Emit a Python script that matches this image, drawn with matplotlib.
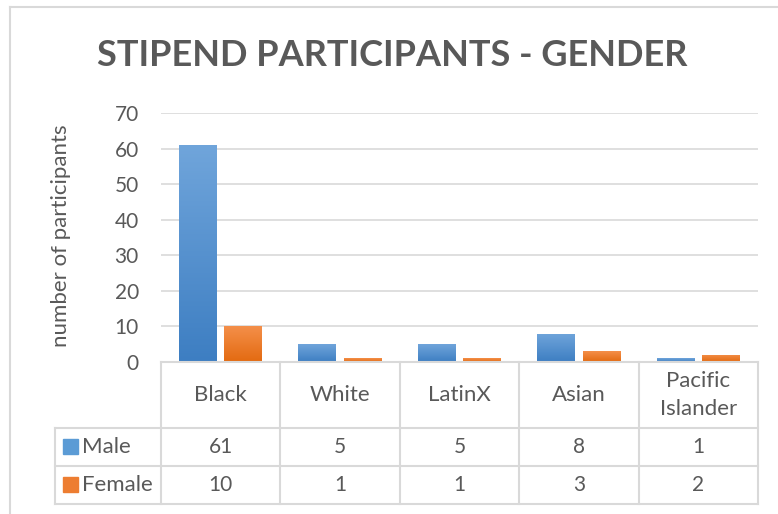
import matplotlib
matplotlib.use("Agg")
import matplotlib.pyplot as plt
import numpy as np
from matplotlib.lines import Line2D
from matplotlib.patches import Rectangle
from matplotlib.colors import LinearSegmentedColormap

categories = ["Black", "White", "LatinX", "Asian", "Pacific\nIslander"]
series_names = ["Male", "Female"]
male = [61, 5, 5, 8, 1]
female = [10, 1, 1, 3, 2]
yticks = [0, 10, 20, 30, 40, 50, 60, 70]
title = "STIPEND PARTICIPANTS - GENDER"
ylabel = "number of participants"

W, H = 778, 514
FONT = "Lato"
TXT = "#595959"
GRID = "#D9D9D9"
FS_TXT = 16
FS_NUM = 15
fig = plt.figure(figsize=(W / 100, H / 100), dpi=100)

def fx(p):
    return p / W

def fy(p):
    return 1 - p / H

L, R, T, B = 161, 758, 113, 362
ax = fig.add_axes([fx(L), fy(B), fx(R) - fx(L), fy(T) - fy(B)])
ax.set_xlim(-0.5, len(categories) - 0.5)
ax.set_ylim(0, 70)
ax.set_yticks(yticks)
ax.set_xticks([])
for s in ax.spines.values():
    s.set_visible(False)
ax.tick_params(axis="y", length=0, pad=16, labelsize=FS_NUM, labelcolor=TXT)
for lab in ax.get_yticklabels():
    lab.set_fontfamily(FONT)
ax.yaxis.grid(True, color=GRID, linewidth=1.2)
ax.set_axisbelow(True)

x = np.arange(len(categories))
bw = 0.318
off = 0.19
grad_m = LinearSegmentedColormap.from_list("m", ["#3D7EC2", "#70A5DB"])
grad_f = LinearSegmentedColormap.from_list("f", ["#E36A10", "#F48F4A"])
g = np.linspace(0, 1, 256).reshape(-1, 1)
for vals, dx, cmap, col in [(male, -off, grad_m, "#5B9BD5"), (female, off, grad_f, "#ED7D31")]:
    bars = ax.bar(x + dx, vals, bw, color=col, zorder=2)
    for b in bars:
        x0, y0, w, h = b.get_x(), b.get_y(), b.get_width(), b.get_height()
        b.set_facecolor("none")
        b.set_edgecolor("none")
        im = ax.imshow(g, cmap=cmap, origin="lower", aspect="auto",
                       extent=[x0, x0 + w, y0, y0 + h], zorder=3)
        im.set_clip_path(b)
ax.set_xlim(-0.5, len(categories) - 0.5)
ax.set_ylim(0, 70)

fig.text(fx(392), fy(55), title, ha="center", va="center", fontsize=26,
         fontweight="bold", color=TXT, fontfamily=FONT)
fig.text(fx(61), fy(236), ylabel, ha="center", va="center", rotation=90,
         fontsize=FS_TXT, color=TXT, fontfamily=FONT)

# outer chart border
fig.add_artist(Line2D([fx(10), fx(10)], [fy(7), fy(H + 5)], color=GRID, lw=1.5))
fig.add_artist(Line2D([fx(10), fx(W + 5)], [fy(7), fy(7)], color=GRID, lw=1.5))

# data table
rows_y = [B, 428, 466, 504]
bounds = [L + (R - L) * i / len(categories) for i in range(len(categories) + 1)]
lc = "#D9D9D9"
lw = 1.5
for xb in bounds:
    fig.add_artist(Line2D([fx(xb), fx(xb)], [fy(B), fy(504)], color=lc, lw=lw))
fig.add_artist(Line2D([fx(55), fx(55)], [fy(428), fy(504)], color=lc, lw=lw))
fig.add_artist(Line2D([fx(L), fx(R)], [fy(B), fy(B)], color=lc, lw=lw))
for yb in rows_y[1:]:
    fig.add_artist(Line2D([fx(55), fx(R)], [fy(yb), fy(yb)], color=lc, lw=lw))

for i, c in enumerate(categories):
    cx = (bounds[i] + bounds[i + 1]) / 2
    fig.text(fx(cx), fy(395), c, ha="center", va="center", fontsize=FS_TXT,
             color=TXT, fontfamily=FONT, linespacing=1.45)
    fig.text(fx(cx), fy(447), str(male[i]), ha="center", va="center",
             fontsize=FS_NUM, color=TXT, fontfamily=FONT)
    fig.text(fx(cx), fy(485), str(female[i]), ha="center", va="center",
             fontsize=FS_NUM, color=TXT, fontfamily=FONT)

for name, yc, col in [(series_names[0], 447, "#5B9BD5"), (series_names[1], 485, "#ED7D31")]:
    fig.add_artist(Rectangle((fx(63), fy(yc + 7)), fx(15), fy(0) - fy(15),
                             color=col, transform=fig.transFigure))
    fig.text(fx(82), fy(yc), name, ha="left", va="center", fontsize=FS_TXT,
             color=TXT, fontfamily=FONT)

fig.savefig("out.png", dpi=100)
